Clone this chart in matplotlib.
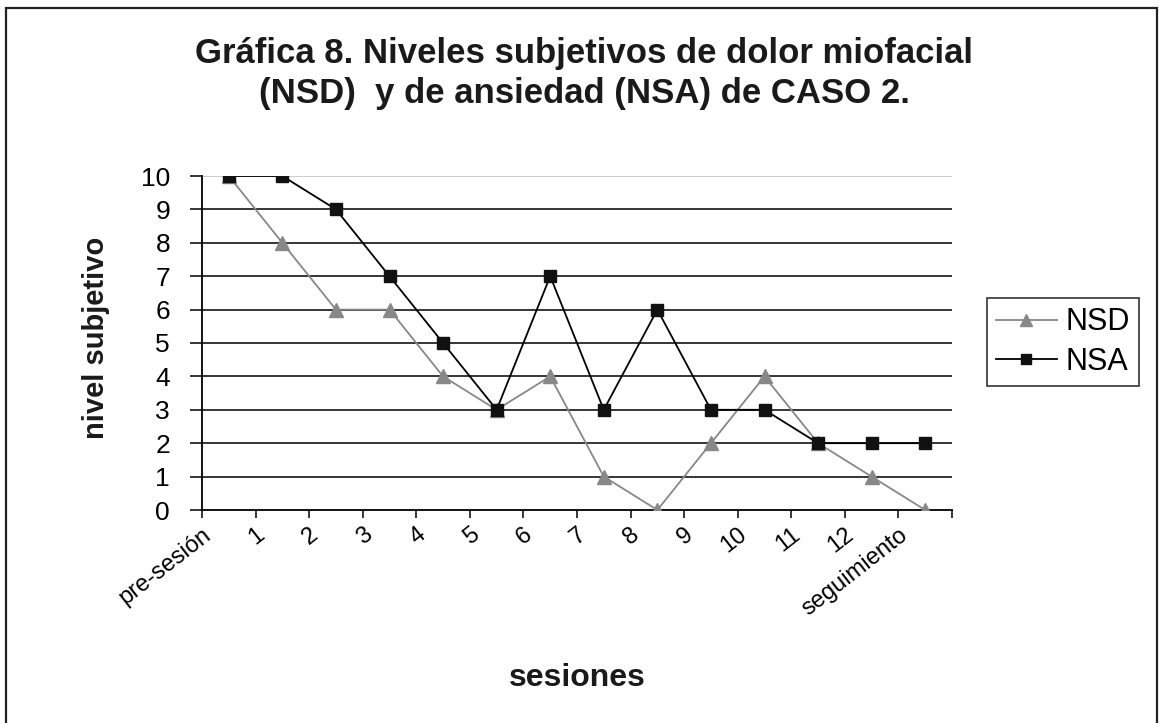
import numpy as np
import matplotlib
matplotlib.use('Agg')
import matplotlib.pyplot as plt
from matplotlib.patches import Rectangle
from matplotlib.transforms import ScaledTranslation

plt.rcParams['font.family'] = ['Liberation Sans', 'DejaVu Sans']

sesiones = ['pre-sesión', '1', '2', '3', '4', '5', '6', '7', '8', '9', '10', '11', '12', 'seguimiento']
nsd = [10, 8, 6, 6, 4, 3, 4, 1, 0, 2, 4, 2, 1, 0]
nsa = [10, 10, 9, 7, 5, 3, 7, 3, 6, 3, 3, 2, 2, 2]

W, H = 1159, 723
fig = plt.figure(figsize=(W / 100, H / 100), dpi=100)
ax = fig.add_axes([202 / W, 1 - 510 / H, (952 - 202) / W, (510 - 176) / H])

x = np.arange(len(sesiones))

# horizontal grid
for v in range(1, 10):
    ax.axhline(v, color='black', lw=1.1, zorder=1)
ax.axhline(10, color='#c0c0c0', lw=1.1, zorder=1)

ax.plot(x, nsd, color='#888888', lw=1.3, marker='^', markersize=10.5,
        markerfacecolor='#888888', markeredgecolor='#888888', label='NSD', zorder=3)
ax.plot(x, nsa, color='black', lw=1.3, marker='s', markersize=9,
        markerfacecolor='#111111', markeredgecolor='#111111', label='NSA', zorder=4)

ax.set_xlim(-0.5, len(sesiones) - 0.5)
ax.set_ylim(0, 10)
ax.set_yticks(range(0, 11))
ax.tick_params(axis='y', direction='out', length=9, width=1.1, pad=14, labelsize=19)

ax.set_xticks(x)
ax.set_xticklabels(sesiones, rotation=38, ha='right', va='top', rotation_mode='anchor', fontsize=17)
ax.set_xticks(np.arange(-0.5, len(sesiones)), minor=True)
ax.tick_params(axis='x', which='major', length=0, pad=10)
ax.tick_params(axis='x', which='minor', direction='out', length=6, width=1.1)
off = ScaledTranslation(-0.27, 0, fig.dpi_scale_trans)
for lbl in ax.get_xticklabels():
    lbl.set_transform(lbl.get_transform() + off)

for s in ['top', 'right']:
    ax.spines[s].set_visible(False)
ax.spines['left'].set_linewidth(1.3)
ax.spines['bottom'].set_linewidth(1.3)
ax.patch.set_alpha(0)

titulo = ['Gráfica 8. Niveles subjetivos de dolor miofacial', '(NSD)  y de ansiedad (NSA) de CASO 2.']
fig.text(584 / W, 1 - 63 / H, titulo[0], ha='center', va='baseline', fontsize=25,
         fontweight='bold', color='#1a1a1a')
fig.text(584 / W, 1 - 103 / H, titulo[1], ha='center', va='baseline', fontsize=25,
         fontweight='bold', color='#1a1a1a')
fig.text(577 / W, 1 - 678 / H, 'sesiones', ha='center', va='center', fontsize=23, fontweight='bold', color='#1a1a1a')
fig.text(96 / W, 1 - 338 / H, 'nivel subjetivo', ha='center', va='center', rotation=90,
         fontsize=21, fontweight='bold', color='#1a1a1a')

leg = ax.legend(loc='center', bbox_to_anchor=(1063 / W, 1 - 342 / H), bbox_transform=fig.transFigure,
                fontsize=22, frameon=True, fancybox=False, handlelength=2.0, handletextpad=0.3,
                borderpad=0.3, labelspacing=0.3, markerscale=0.8)
leg.get_frame().set_edgecolor('black')
leg.get_frame().set_linewidth(1.2)

fig.patches.append(Rectangle((6 / W, -0.02), (1157 - 6) / W, 1.02 - 8 / H, transform=fig.transFigure,
                             fill=False, edgecolor='#222222', lw=1.6))

fig.savefig('out.png', dpi=100)
